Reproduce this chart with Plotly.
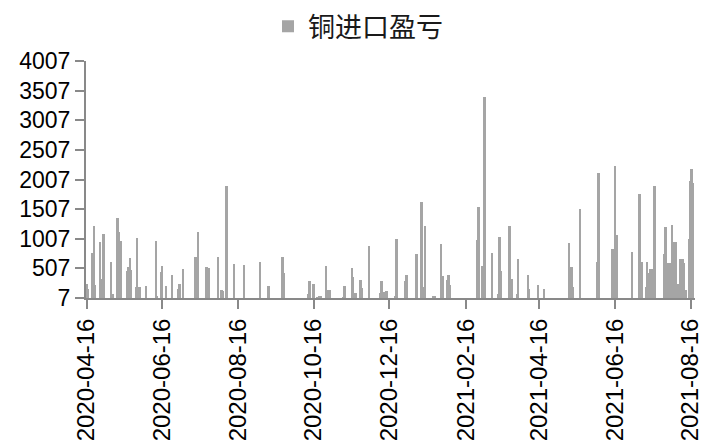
import plotly.graph_objects as go

dates = [
    "2020-04-16", "2020-04-17", "2020-04-21", "2020-04-22", "2020-04-23", "2020-04-27",
    "2020-04-29", "2020-04-30", "2020-05-06", "2020-05-07", "2020-05-11", "2020-05-12",
    "2020-05-13", "2020-05-14", "2020-05-19", "2020-05-20", "2020-05-21", "2020-05-22",
    "2020-05-26", "2020-05-27", "2020-05-29", "2020-06-03", "2020-06-11", "2020-06-12",
    "2020-06-15", "2020-06-16", "2020-06-19", "2020-06-24", "2020-06-29", "2020-06-30",
    "2020-07-03", "2020-07-13", "2020-07-15", "2020-07-22", "2020-07-24", "2020-07-31",
    "2020-08-03", "2020-08-04", "2020-08-07", "2020-08-13", "2020-08-21", "2020-09-03",
    "2020-09-10", "2020-09-21", "2020-09-22", "2020-10-12", "2020-10-13", "2020-10-16",
    "2020-10-19", "2020-10-21", "2020-10-22", "2020-10-26", "2020-10-27", "2020-10-28",
    "2020-10-29", "2020-11-09", "2020-11-10", "2020-11-16", "2020-11-17", "2020-11-19",
    "2020-11-23", "2020-11-24", "2020-11-30", "2020-12-09", "2020-12-10", "2020-12-12",
    "2020-12-14", "2020-12-21", "2020-12-22", "2020-12-29", "2020-12-30", "2021-01-07",
    "2021-01-11", "2021-01-12", "2021-01-13", "2021-01-14", "2021-01-21", "2021-01-22",
    "2021-01-27", "2021-01-28", "2021-02-01", "2021-02-02", "2021-02-03", "2021-02-25",
    "2021-02-26", "2021-03-01", "2021-03-02", "2021-03-03", "2021-03-09", "2021-03-14",
    "2021-03-15", "2021-03-16", "2021-03-23", "2021-03-24", "2021-03-25", "2021-03-29",
    "2021-03-30", "2021-04-07", "2021-04-08", "2021-04-15", "2021-04-20", "2021-05-10",
    "2021-05-11", "2021-05-12", "2021-05-13", "2021-05-19", "2021-06-02", "2021-06-03",
    "2021-06-14", "2021-06-16", "2021-06-18", "2021-06-30", "2021-07-06", "2021-07-07",
    "2021-07-08", "2021-07-11", "2021-07-12", "2021-07-14", "2021-07-15", "2021-07-16",
    "2021-07-18", "2021-07-26", "2021-07-27", "2021-07-29", "2021-07-30", "2021-08-01",
    "2021-08-03", "2021-08-04", "2021-08-05", "2021-08-06", "2021-08-08", "2021-08-10",
    "2021-08-11", "2021-08-12", "2021-08-15", "2021-08-16", "2021-08-17", "2021-08-18",
]

profit = [
    248, 164, 763, 1226, 231, 948,
    326, 1088, 607, 74, 1363, 1116,
    747, 976, 455, 522, 679, 483,
    186, 1015, 186, 203, 976, 40,
    438, 539, 210, 399, 158, 242,
    494, 696, 1116, 522, 506, 707,
    147, 130, 1895, 578, 562, 623,
    214, 696, 427, 74, 287, 248,
    18, 35, 30, 539, 147, 140,
    136, 20, 203, 511, 354, 91,
    315, 175, 881, 91, 287, 105,
    119, 24, 1010, 298, 394, 758,
    1630, 185, 185, 1230, 46, 46,
    912, 382, 315, 391, 231, 987,
    1548, 550, 410, 3400, 763, 74,
    1038, 466, 1214, 326, 326, 80,
    663, 399, 164, 220, 152, 931,
    527, 530, 197, 1506, 612, 2125,
    834, 2234, 1071, 791, 1760, 618,
    618, 192, 623, 427, 500, 497,
    1901, 758, 1211, 600, 600, 1240,
    948, 948, 250, 250, 673, 668,
    606, 136, 1007, 1990, 2181, 1948,
]

series_name = "铜进口盈亏"
x_tick_dates = ["2020-04-16", "2020-06-16", "2020-08-16", "2020-10-16", "2020-12-16",
                "2021-02-16", "2021-04-16", "2021-06-16", "2021-08-16"]
y_tick_values = [7, 507, 1007, 1507, 2007, 2507, 3007, 3507, 4007]
axis_min = 7

DAY_MS = 86400000
axis_grey = "#898989"
bar_grey = "#A5A5A5"

fig = go.Figure()
fig.add_trace(go.Bar(
    x=dates,
    y=[v - axis_min for v in profit],
    base=axis_min,
    name=series_name,
    width=[1.6 * DAY_MS] * len(dates),
    marker=dict(color=bar_grey, line=dict(width=0)),
    customdata=profit,
    hovertemplate="%{x}<br>%{customdata}<extra></extra>",
    showlegend=True,
))

fig.update_layout(
    width=716, height=441,
    margin=dict(l=86, r=21, t=61, b=143, autoexpand=False),
    paper_bgcolor="white", plot_bgcolor="white",
    bargap=0,
    legend=dict(
        orientation="h", x=0.5, xref="container", xanchor="center",
        y=0.995, yref="container", yanchor="top",
        font=dict(family="Noto Sans CJK SC", size=27, color="#1a1a1a"),
    ),
    font=dict(family="Liberation Sans", color="#000000"),
)

fig.update_xaxes(
    type="date",
    range=["2020-04-15 12:00", "2021-08-19 12:00"],
    tickmode="array", tickvals=x_tick_dates, ticktext=x_tick_dates,
    tickangle=-90,
    tickfont=dict(family="Liberation Sans", size=24, color="#000000"),
    showline=True, linecolor=axis_grey, linewidth=2,
    ticks="outside", ticklen=9, tickcolor=axis_grey, tickwidth=2,
    showgrid=False, zeroline=False, automargin=False,
)
fig.update_yaxes(
    range=[7, 4007],
    tickmode="array", tickvals=y_tick_values, ticktext=[str(v) for v in y_tick_values],
    tickfont=dict(family="Liberation Sans", size=23, color="#000000"),
    showline=True, linecolor=axis_grey, linewidth=2,
    ticks="outside", ticklen=9, tickcolor=axis_grey, tickwidth=2,
    showgrid=False, zeroline=False, automargin=False,
)

fig.write_html("out.html", config={"displayModeBar": False},
               post_script="document.body.style.margin='0';")
